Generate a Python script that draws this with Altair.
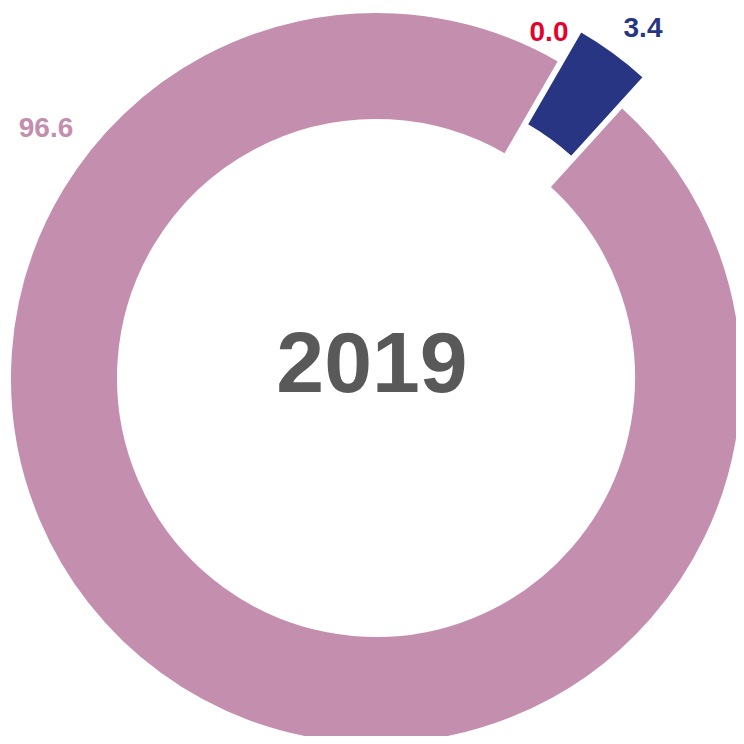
import math
import altair as alt
import pandas as pd

# ---- data ----
categories = ["A", "B", "C"]
values = [0.0, 3.4, 96.6]
colors = ["#E4032E", "#283583", "#C48EAE"]
center_label = "2019"

# ---- layout / style ----
W, H = 728, 728
CX, CY = 368, 370
R_IN, R_OUT = 258, 366
START_DEG = 30.0
EXPLODE = 37
EXPLODED = "B"
FONT = "Liberation Sans"

df = pd.DataFrame({"category": categories, "value": values, "order": list(range(len(values)))})
df["label"] = df["value"].map(lambda v: f"{v:.1f}")

total = sum(values)
# bisector of exploded slice (for the offset of its centre)
cum_before = sum(values[: categories.index(EXPLODED)])
mid_frac = (cum_before + values[categories.index(EXPLODED)] / 2) / total
mid_ang = math.radians(START_DEG) + mid_frac * 2 * math.pi
ex_x = CX + EXPLODE * math.sin(mid_ang)
ex_y = CY - EXPLODE * math.cos(mid_ang)

a0 = math.radians(START_DEG)
theta_scale = alt.Scale(domain=[0, total], range=[a0, a0 + 2 * math.pi])
color_scale = alt.Scale(domain=categories, range=colors)

base = (
    alt.Chart(df)
    .transform_window(cum="sum(value)", sort=[alt.SortField("order")], frame=[None, 0])
    .transform_calculate(start="datum.cum - datum.value")
)

arc_enc = dict(
    theta=alt.Theta("start:Q", scale=theta_scale, stack=None),
    theta2="cum:Q",
    color=alt.Color("category:N", scale=color_scale, legend=None),
)

arcs_main = (
    base.transform_filter(alt.datum.category != EXPLODED)
    .mark_arc(innerRadius=R_IN, outerRadius=R_OUT, stroke="white", strokeWidth=2)
    .encode(x=alt.value(CX), y=alt.value(CY), **arc_enc)
)
arcs_ex = (
    base.transform_filter(alt.datum.category == EXPLODED)
    .mark_arc(innerRadius=R_IN, outerRadius=R_OUT, stroke="white", strokeWidth=2)
    .encode(x=alt.value(ex_x), y=alt.value(ex_y), **arc_enc)
)

label_pos = {"A": (541, 33), "B": (635, 29), "C": (38, 129)}
labels = []
for cat in categories:
    px, py = label_pos[cat]
    labels.append(
        alt.Chart(df)
        .transform_filter(alt.datum.category == cat)
        .mark_text(font=FONT, fontSize=28, fontWeight="bold", align="center", baseline="alphabetic")
        .encode(
            text="label:N",
            color=alt.Color("category:N", scale=color_scale, legend=None),
            x=alt.value(px),
            y=alt.value(py),
        )
    )

center = (
    alt.Chart(pd.DataFrame({"t": [center_label]}))
    .mark_text(font=FONT, fontSize=86, fontWeight="bold", color="#595959", align="center", baseline="alphabetic")
    .encode(text="t:N", x=alt.value(364), y=alt.value(384))
)

chart = (
    alt.layer(arcs_main, arcs_ex, *labels, center)
    .properties(width=W, height=H, padding=0, autosize="none", background="white")
    .configure_view(stroke=None)
)

chart.save("out.html", embed_options={"renderer": "svg", "actions": False})
